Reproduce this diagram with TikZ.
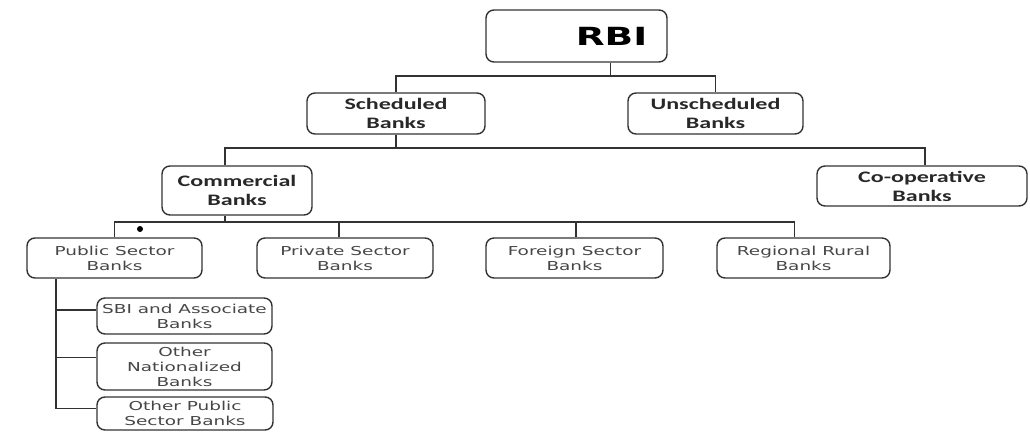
\documentclass[tikz,border=0pt]{standalone}
\usepackage{fontspec}
\setmainfont{DejaVu Sans}[FakeStretch=1.5]
\newfontfamily\headfont{Carlito}[FakeStretch=1.5]
\usetikzlibrary{positioning, calc}
\definecolor{linegray}{RGB}{50,50,50}
\definecolor{inkgray}{RGB}{40,40,40}
\definecolor{softgray}{RGB}{70,70,70}

\begin{document}
\begin{tikzpicture}[x=1pt, y=-1pt, line width=1.6pt, draw=linegray,
  box/.style={draw=linegray, line width=1.4pt, rounded corners=8pt, inner sep=0pt, align=center},
  headbox/.style={box, font=\headfont\fontsize{16}{19}\selectfont\bfseries, text=inkgray},
  subbox/.style={box, font=\fontsize{12.3}{15}\selectfont, text=softgray}]
  \useasboundingbox (0,0) rectangle (1030,436);

  % top of the tree
  \node[box, minimum width=181pt, minimum height=52pt,
        font=\fontsize{25}{28}\bfseries\selectfont, text=black] (rbi) at (576.5,36) {\hspace*{70pt}RBI};

  \node[headbox, minimum width=178pt, minimum height=41pt] (sched) at (396,113.5) {Scheduled\\Banks};
  \node[headbox, minimum width=175pt, minimum height=41pt] (unsched) at (715.5,113.5) {Unscheduled\\Banks};

  \node[headbox, minimum width=150pt, minimum height=49pt] (comm) at (237,190.5) {Commercial\\Banks};
  \node[headbox, minimum width=210pt, minimum height=40pt] (coop) at (922,186) {Co-operative\\Banks};

  % commercial banks
  \node[subbox, minimum width=175pt, minimum height=40pt] (pub) at (114.5,258) {Public Sector\\Banks};
  \node[subbox, minimum width=176pt, minimum height=40pt] (priv) at (345,258) {Private Sector\\Banks};
  \node[subbox, minimum width=177pt, minimum height=40pt] (forgn) at (574.5,258) {Foreign Sector\\Banks};
  \node[subbox, minimum width=173pt, minimum height=40pt] (rrb) at (803.5,258) {Regional Rural\\Banks};

  % public sector banks
  \node[subbox, minimum width=175pt, minimum height=36pt] (sbi) at (184.5,316) {SBI and Associate\\Banks};
  \node[subbox, minimum width=175pt, minimum height=47pt] (onb) at (184.5,366.5) {Other\\Nationalized\\Banks};
  \node[subbox, minimum width=176pt, minimum height=33pt] (opsb) at (185,413.5) {Other Public\\Sector Banks};

  \coordinate (busa) at (0,76);
  \coordinate (busb) at (0,148);
  \coordinate (busc) at (0,222);
  \coordinate (trunk) at (56,0);

  \draw ([xshift=34pt]rbi.south) -- ([xshift=34pt]rbi.south |- busa);
  \draw (sched.north) -- (sched.north |- busa) -- (unsched.north |- busa) -- (unsched.north);

  \draw (sched.south) -- (sched.south |- busb);
  \draw ([xshift=-12pt]comm.north) -- ([xshift=-12pt]comm.north |- busb)
        -- ([xshift=3pt]coop.north |- busb) -- ([xshift=3pt]coop.north);

  \draw ([xshift=-12pt]comm.south) -- ([xshift=-12pt]comm.south |- busc);
  \draw (pub.north) -- (pub.north |- busc) -- ([xshift=-9pt]rrb.north |- busc) -- ([xshift=-9pt]rrb.north);
  \draw ([xshift=-6pt]priv.north) -- ([xshift=-6pt]priv.north |- busc);
  \draw ([xshift=1.5pt]forgn.north) -- ([xshift=1.5pt]forgn.north |- busc);
  \fill[black] (140,229) circle (3pt);

  \draw (pub.south -| trunk) -- ([yshift=5pt]opsb.west -| trunk) -- ([yshift=5pt]opsb.west);
  \draw ([yshift=6pt]sbi.west -| trunk) -- ([yshift=6pt]sbi.west);
  \draw ([yshift=9pt]onb.west -| trunk) -- ([yshift=9pt]onb.west);
\end{tikzpicture}
\end{document}
